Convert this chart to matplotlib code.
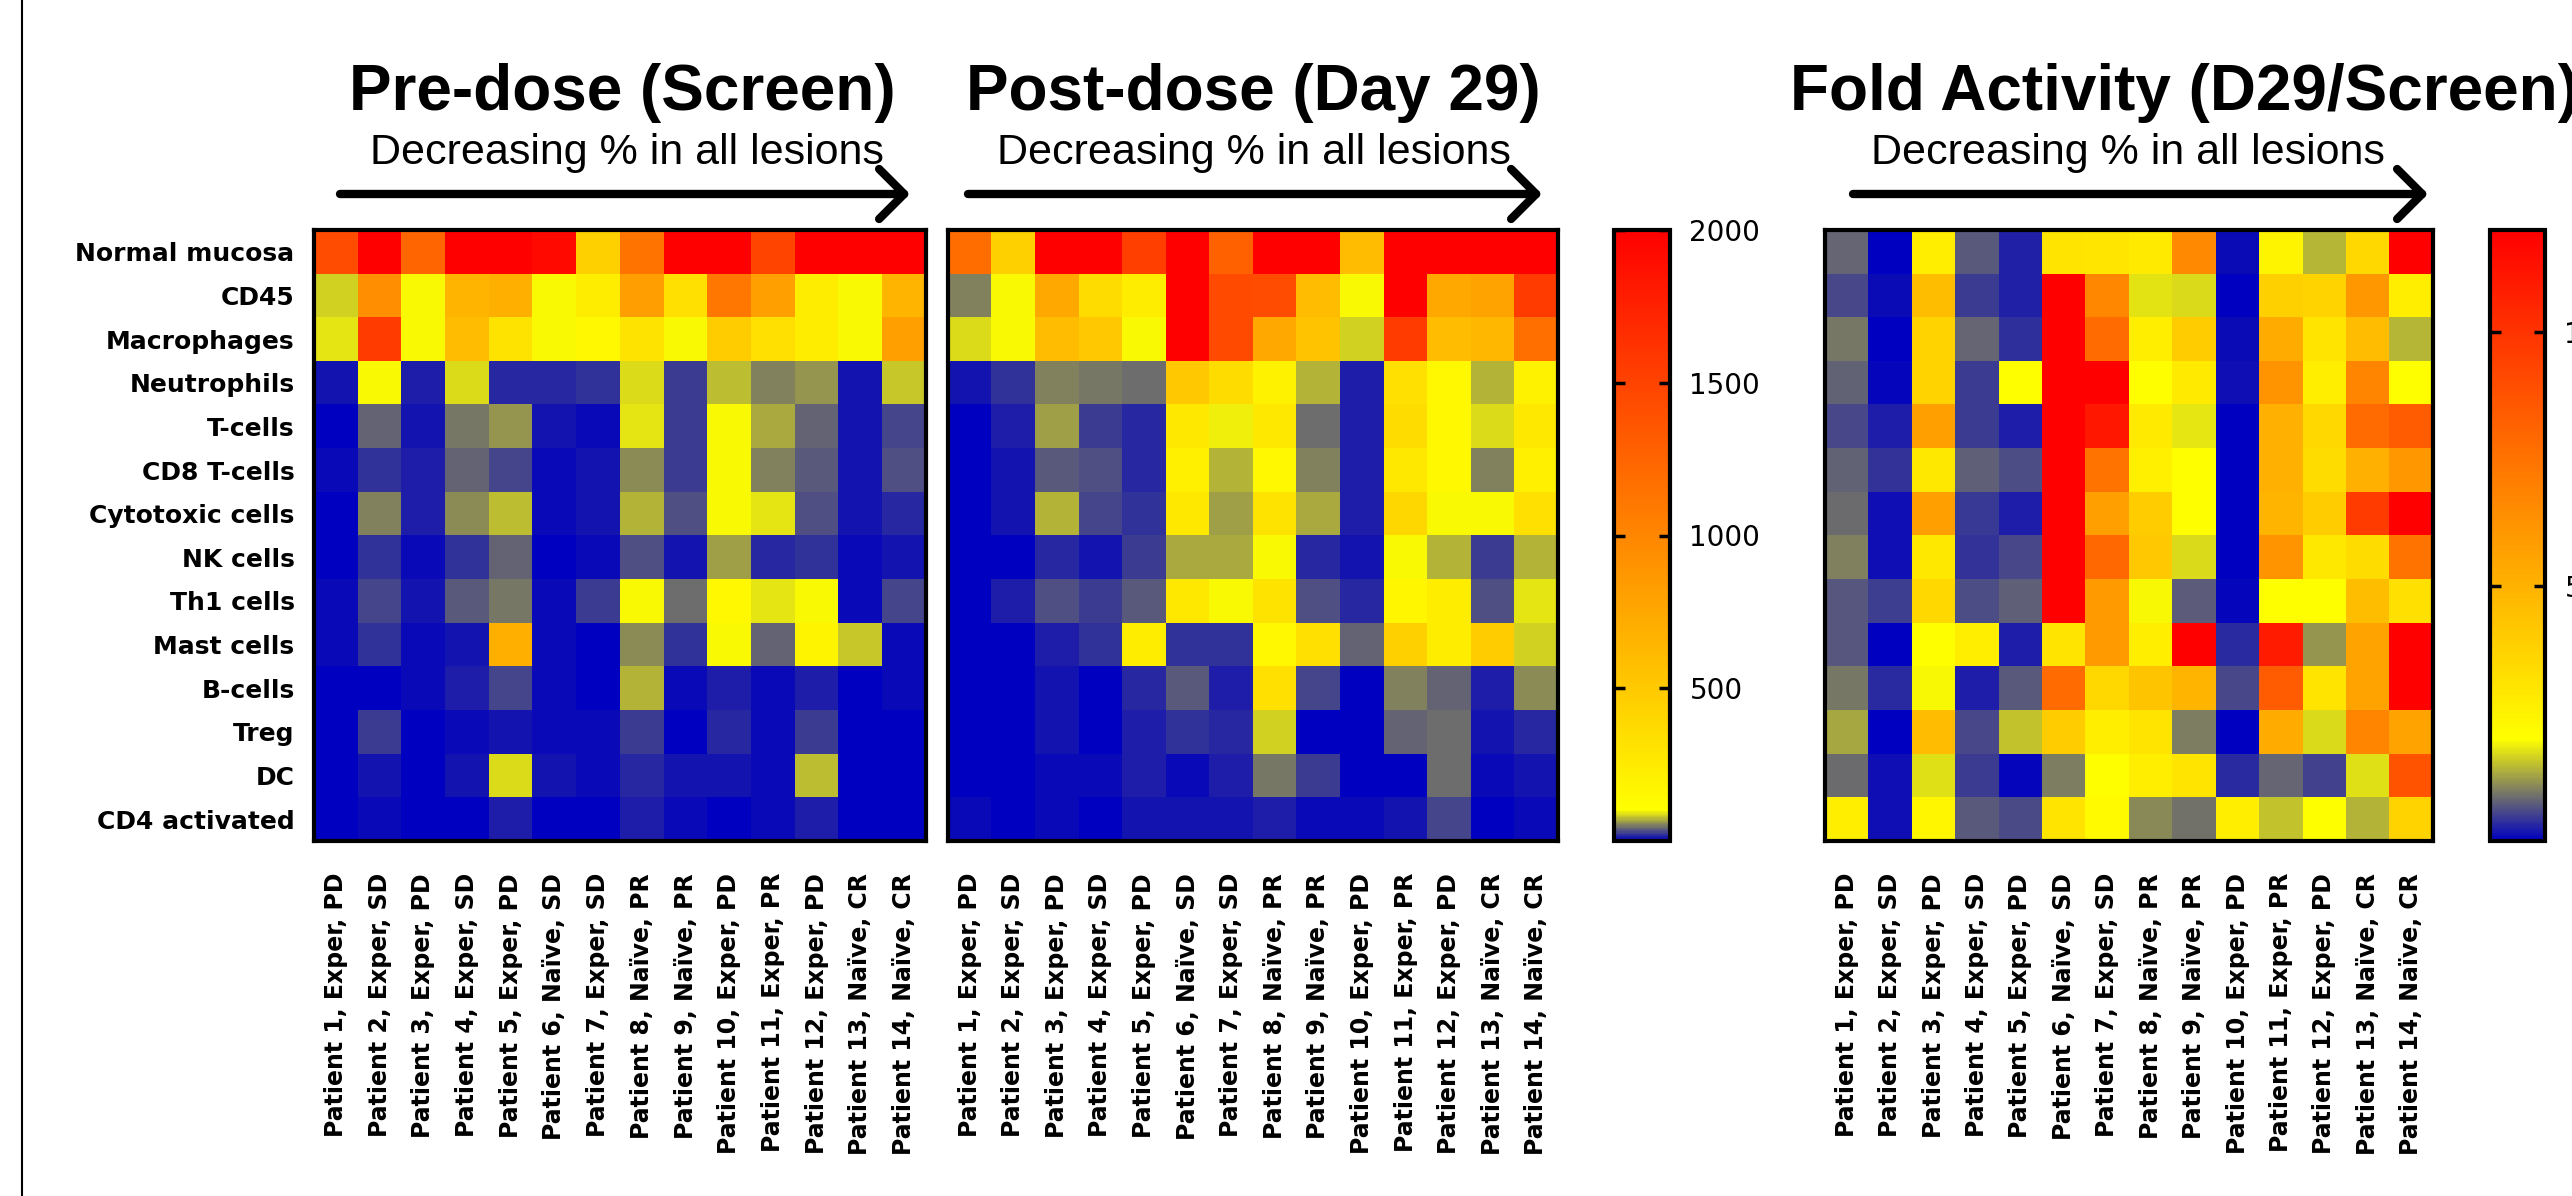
import numpy as np
import matplotlib.pyplot as plt
from matplotlib.colors import LinearSegmentedColormap
from matplotlib.patches import FancyArrowPatch
from matplotlib.lines import Line2D

# rows of the heatmaps
cell_types = ["Normal mucosa", "CD45", "Macrophages", "Neutrophils", "T-cells",
              "CD8 T-cells", "Cytotoxic cells", "NK cells", "Th1 cells",
              "Mast cells", "B-cells", "Treg", "DC", "CD4 activated"]

# columns
patient_ids = list(range(1, 15))
experience = ["Exper", "Exper", "Exper", "Exper", "Exper", "Naïve", "Exper",
              "Naïve", "Naïve", "Exper", "Exper", "Exper", "Naïve", "Naïve"]
response = ["PD", "SD", "PD", "SD", "PD", "SD", "SD", "PR", "PR", "PD",
            "PR", "PD", "CR", "CR"]

# cell densities at screening
pre_dose = [
    [1430, 2000, 1240, 2000, 2000, 1925, 450, 1135, 2000, 2000, 1490, 2000, 2000, 2000],
    [83, 927, 100, 659, 688, 100, 227, 823, 331, 1121, 808, 227, 100, 659],
    [91, 1553, 100, 600, 301, 100, 152, 301, 100, 480, 331, 227, 100, 808],
    [10, 100, 13, 89, 18, 18, 23, 88, 27, 77, 53, 60, 9, 82],
    [3, 42, 8, 49, 59, 8, 6, 91, 24, 100, 69, 42, 8, 29],
    [4, 21, 12, 42, 29, 5, 9, 55, 24, 100, 54, 37, 10, 35],
    [3, 54, 12, 58, 77, 4, 10, 74, 35, 100, 93, 35, 10, 18],
    [0, 23, 5, 21, 42, 3, 6, 34, 11, 64, 16, 23, 6, 10],
    [6, 29, 9, 39, 48, 6, 27, 100, 43, 150, 91, 100, 6, 29],
    [5, 21, 5, 8, 688, 7, 3, 57, 21, 100, 42, 180, 82, 5],
    [0, 2, 5, 12, 29, 5, 3, 71, 5, 12, 5, 13, 2, 4],
    [2, 24, 0, 5, 9, 5, 5, 27, 3, 17, 5, 24, 0, 3],
    [2, 11, 2, 11, 86, 9, 6, 16, 8, 11, 6, 77, 3, 0],
    [2, 6, 2, 2, 15, 2, 3, 13, 6, 2, 6, 14, 2, 2],
]

# cell densities at day 29
post_dose = [
    [1195, 450, 2000, 2000, 1525, 2000, 1280, 2000, 2000, 600, 2000, 2000, 2000, 2000],
    [54, 100, 748, 361, 227, 2000, 1449, 1430, 600, 100, 2000, 748, 778, 1553],
    [88, 100, 600, 510, 100, 2000, 1449, 748, 540, 85, 1553, 600, 630, 1165],
    [9, 21, 54, 49, 43, 510, 361, 197, 72, 13, 331, 152, 71, 197],
    [2, 13, 66, 27, 19, 271, 94, 271, 46, 13, 361, 152, 88, 271],
    [3, 10, 38, 35, 19, 212, 72, 152, 51, 12, 271, 152, 53, 212],
    [2, 10, 72, 31, 23, 271, 63, 301, 68, 13, 391, 100, 100, 331],
    [0, 3, 17, 9, 24, 67, 67, 100, 19, 8, 100, 71, 24, 72],
    [3, 15, 34, 24, 38, 271, 100, 301, 34, 16, 167, 227, 34, 92],
    [3, 0, 13, 23, 227, 23, 23, 152, 331, 42, 450, 227, 480, 85],
    [2, 0, 10, 3, 19, 38, 15, 331, 30, 3, 54, 41, 15, 58],
    [2, 0, 9, 3, 13, 21, 18, 83, 3, 2, 42, 44, 10, 19],
    [2, 0, 5, 5, 12, 7, 12, 48, 24, 3, 3, 46, 6, 9],
    [5, 0, 4, 2, 10, 8, 8, 15, 5, 6, 9, 31, 3, 5],
]

# fold activity D29 / screen
fold = [
    [0.80, 0.00, 2.67, 0.71, 0.27, 3.06, 2.98, 2.82, 6.6, 0.11, 2.43, 1.44, 3.53, 12],
    [0.58, 0.11, 4.55, 0.47, 0.27, 12, 6.7, 1.79, 1.73, 0.00, 3.84, 3.70, 6.0, 2.67],
    [0.96, 0.00, 3.70, 0.82, 0.38, 12, 7.76, 2.67, 4.0, 0.11, 5.25, 3.06, 4.63, 1.44],
    [0.78, 0.06, 3.70, 0.47, 2.0, 12, 12, 2.0, 2.82, 0.13, 6.2, 2.67, 6.8, 2.0],
    [0.58, 0.25, 5.7, 0.47, 0.25, 12, 11.06, 2.82, 1.82, 0.00, 5.1, 3.53, 7.76, 8.4],
    [0.78, 0.42, 2.9, 0.77, 0.63, 12, 7.45, 2.59, 2.0, 0.00, 5.1, 3.37, 5.1, 6.0],
    [0.85, 0.13, 5.7, 0.45, 0.24, 12, 5.7, 4.0, 2.0, 0.00, 4.9, 4.0, 9.65, 12],
    [1.02, 0.13, 2.9, 0.42, 0.58, 12, 7.9, 4.16, 1.73, 0.00, 6.2, 2.9, 3.37, 7.45],
    [0.68, 0.50, 3.53, 0.63, 0.77, 12, 5.9, 1.95, 0.74, 0.05, 2.0, 2.0, 4.55, 3.2],
    [0.68, 0.00, 2.0, 2.67, 0.25, 3.06, 5.9, 2.67, 12, 0.35, 10.9, 1.19, 5.6, 12],
    [0.96, 0.33, 1.96, 0.24, 0.71, 7.76, 3.53, 4.3, 4.9, 0.58, 8.4, 3.06, 5.6, 12],
    [1.32, 0.00, 4.63, 0.58, 1.54, 4.0, 2.67, 3.06, 1.0, 0.00, 5.25, 1.73, 6.8, 5.6],
    [0.85, 0.14, 1.76, 0.49, 0.06, 0.99, 2.0, 2.67, 3.06, 0.35, 0.80, 0.53, 1.76, 8.7],
    [2.67, 0.14, 2.35, 0.71, 0.60, 3.06, 2.2, 1.10, 0.91, 2.67, 1.54, 2.0, 1.41, 3.7],
]

count_ticks = [500, 1000, 1500, 2000]
fold_ticks = [5, 10]

patient_labels = ["Patient %d, %s, %s" % (p, e, r)
                  for p, e, r in zip(patient_ids, experience, response)]

W, H = 2572, 1196
fig = plt.figure(figsize=(W / 100, H / 100), dpi=100)


def fx(px):
    return px / W


def fy(py):
    return 1 - py / H


def make_cmap(vmax, yellow_at):
    return LinearSegmentedColormap.from_list(
        "byr", [(0, (0, 0, 0.753)), (yellow_at / vmax, (1, 1, 0)), (1, (1, 0, 0))], N=512)


top, bottom = 230, 841


def heatmap(x0, x1, data, cmap, vmax, show_rows):
    ax = fig.add_axes([fx(x0), fy(bottom), (x1 - x0) / W, (bottom - top) / H])
    im = ax.imshow(np.array(data), cmap=cmap, vmin=0, vmax=vmax,
                   aspect="auto", interpolation="nearest")
    ax.set_xticks(range(len(patient_labels)))
    ax.set_xticklabels(patient_labels, rotation=90, fontsize=17, fontweight="bold")
    ax.set_yticks(range(len(cell_types)))
    if show_rows:
        ax.set_yticklabels(cell_types, fontsize=18, fontweight="bold")
    else:
        ax.set_yticklabels([])
    ax.tick_params(length=0)
    ax.tick_params(axis="x", pad=23)
    ax.tick_params(axis="y", pad=14)
    for sp in ax.spines.values():
        sp.set_linewidth(3)
    return im


def colorbar(im, x0, x1, ticks):
    cax = fig.add_axes([fx(x0), fy(bottom), (x1 - x0) / W, (bottom - top) / H])
    cb = fig.colorbar(im, cax=cax, ticks=ticks)
    cb.outline.set_linewidth(3)
    cax.minorticks_off()
    cax.tick_params(direction="in", left=True, right=True, labelleft=False,
                    length=8, width=2.5, labelsize=20, pad=14)
    return cb


def header(title, title_x, sub_x, ax0, ax1):
    fig.text(fx(title_x), fy(110), title, ha="center", va="baseline",
             fontsize=46, fontweight="bold", family="Liberation Sans")
    fig.text(fx(sub_x), fy(164), "Decreasing % in all lesions", ha="center",
             va="baseline", fontsize=31, family="Liberation Sans")
    fig.add_artist(FancyArrowPatch((fx(ax0), fy(194)), (fx(ax1), fy(194)),
                                   transform=fig.transFigure,
                                   arrowstyle="->,head_length=0.5,head_width=0.5",
                                   mutation_scale=36, lw=6, color="black",
                                   shrinkA=0, shrinkB=0))


count_cmap = make_cmap(2000, 100)
fold_cmap = make_cmap(12, 2)

im1 = heatmap(314, 926, pre_dose, count_cmap, 2000, True)
im2 = heatmap(948, 1558, post_dose, count_cmap, 2000, False)
colorbar(im2, 1614, 1670, count_ticks)
im3 = heatmap(1825, 2433, fold, fold_cmap, 12, False)
colorbar(im3, 2490, 2545, fold_ticks)

header("Pre-dose (Screen)", 622, 627, 340, 910)
header("Post-dose (Day 29)", 1253, 1254, 968, 1542)
header("Fold Activity (D29/Screen)", 2185, 2128, 1853, 2428)

fig.add_artist(Line2D([fx(22), fx(22)], [0, 1], color="black", lw=1.5,
                      transform=fig.transFigure))

fig.savefig("out.png", dpi=100)
